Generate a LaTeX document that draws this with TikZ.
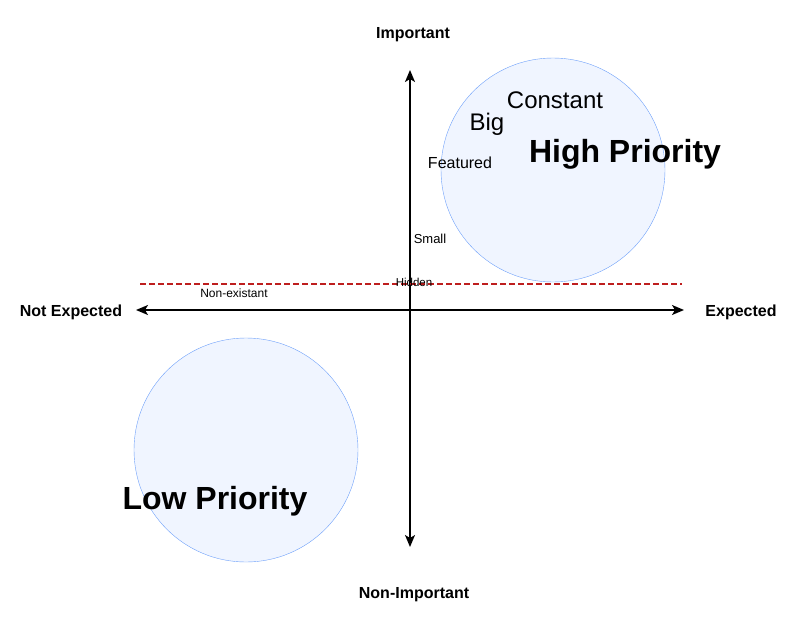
\documentclass[tikz,border=0pt]{standalone}
\usepackage{fontspec}
\setmainfont{Liberation Sans}
\usetikzlibrary{positioning, arrows.meta}
\definecolor{circfill}{RGB}{240,245,255}
\definecolor{circdraw}{RGB}{110,160,250}
\definecolor{darkred}{RGB}{190,30,30}

\begin{document}
\begin{tikzpicture}[
        x=1pt, y=-1pt,
        axis/.style={line width=1.6pt, {Stealth[length=12pt,width=10pt,inset=3pt]}-{Stealth[length=12pt,width=10pt,inset=3pt]}},
        axislabel/.style={font=\fontsize{16}{18}\selectfont\bfseries, yshift=-2pt},
        zone/.style={circle, draw=circdraw, fill=circfill, minimum size=224pt, inner sep=0pt},
        zonelabel/.style={font=\fontsize{32}{36}\selectfont\bfseries, yshift=-3pt},
        item/.style={inner sep=1pt, yshift=-2pt}
    ]
        \useasboundingbox (0,0) rectangle (800,637);

        % Priority zones
        \node[zone] (HIGH) at (553,170) {};
        \node[zone] (LOW) at (246,450) {};

        % Axes
        \coordinate (TOP) at (410,70);
        \coordinate (BOTTOM) at (410,547);
        \coordinate (LEFT) at (136,310);
        \coordinate (RIGHT) at (684,310);
        \draw[axis] (BOTTOM) -- (TOP);
        \draw[axis] (LEFT) -- (RIGHT);

        % Threshold
        \coordinate (TLEFT) at (140,284);
        \coordinate (TRIGHT) at (682,284);
        \draw[darkred, line width=1.2pt, dash pattern=on 6pt off 3pt] (TLEFT) -- (TRIGHT);

        \node[axislabel] (IMP) at (413,33) {Important};
        \node[axislabel] (NONIMP) at (414,593) {Non-Important};
        \node[axislabel] (NOTEXP) at (71,310) {Not Expected};
        \node[axislabel] (EXP) at (741,310) {Expected};

        \node[zonelabel] (HP) at (625,151) {High Priority};
        \node[zonelabel] (LP) at (215,498) {Low Priority};

        % Items
        \node[item, font=\fontsize{24}{28}\selectfont] (CONST) at (555,98) {Constant};
        \node[item, font=\fontsize{24}{28}\selectfont] (BIG) at (487,122) {Big};
        \node[item, font=\fontsize{16}{18}\selectfont] (FEAT) at (460,161) {Featured};
        \node[item, font=\fontsize{13}{15}\selectfont] (SMALL) at (430,237) {Small};
        \node[item, font=\fontsize{11.5}{13}\selectfont] (HID) at (414,280) {Hidden};
        \node[item, font=\fontsize{12}{14}\selectfont] (NONEX) at (234,291) {Non-existant};
    \end{tikzpicture}
\end{document}
